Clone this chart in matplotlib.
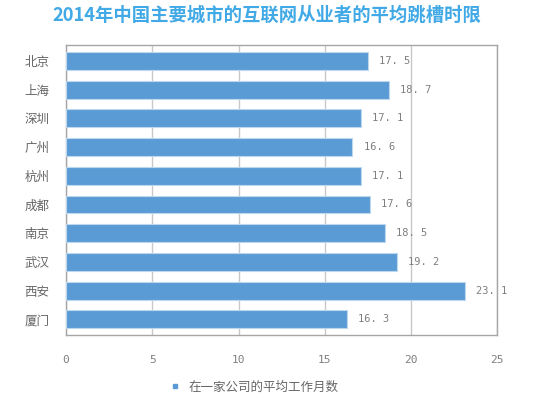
import matplotlib.pyplot as plt
from matplotlib.lines import Line2D

plt.rcParams['font.family'] = ['Noto Sans CJK SC', 'DejaVu Sans']

# 数据
cities = ['北京', '上海', '深圳', '广州', '杭州', '成都', '南京', '武汉', '西安', '厦门']
months = [17.5, 18.7, 17.1, 16.6, 17.1, 17.6, 18.5, 19.2, 23.1, 16.3]
xticks = [0, 5, 10, 15, 20, 25]

bar_color = '#5b9bd5'
text_gray = '#7f7f7f'

fig = plt.figure(figsize=(5.6, 3.99), dpi=100)
ax = fig.add_axes([0.118, 0.160, 0.770, 0.727])

pos = list(range(len(cities)))
ax.barh(pos, months, height=0.62, color=bar_color, edgecolor='#bdd7ee',
        linewidth=0.8, zorder=3)

# 数值标签
for y, v in zip(pos, months):
    ax.annotate(f'{v:.1f}'.replace('.', '. '), (v, y), xytext=(8, 0),
                textcoords='offset points', va='center', ha='left',
                fontsize=7.5, color=text_gray, family='DejaVu Sans Mono')

ax.set_xlim(0, 25)
ax.set_ylim(len(cities) - 0.45, -0.55)
ax.set_yticks(pos)
ax.set_yticklabels(cities, fontsize=9, color='#666666')
ax.set_xticks(xticks)
ax.set_xticklabels([str(t) for t in xticks], fontsize=8, color=text_gray,
                   family='DejaVu Sans Mono')
ax.tick_params(axis='both', length=0)
ax.tick_params(axis='x', pad=14)
ax.tick_params(axis='y', pad=12)
ax.grid(axis='x', color='#c8c8c8', linewidth=1, zorder=0)
for s in ax.spines.values():
    s.set_color('#a6a6a6')
    s.set_linewidth(1)

fig.text(0.477, 0.962, '2014年中国主要城市的互联网从业者的平均跳槽时限',
         ha='center', va='center', fontsize=13.2, fontweight='bold',
         color='#41a9e6')

handle = Line2D([], [], marker='s', linestyle='none', color=bar_color,
                markersize=3)
fig.legend([handle], ['在一家公司的平均工作月数'], loc='center',
           bbox_to_anchor=(0.447, 0.03), frameon=False, fontsize=9,
           labelcolor='#666666', handletextpad=0.1)

fig.savefig('out.png', dpi=100)
